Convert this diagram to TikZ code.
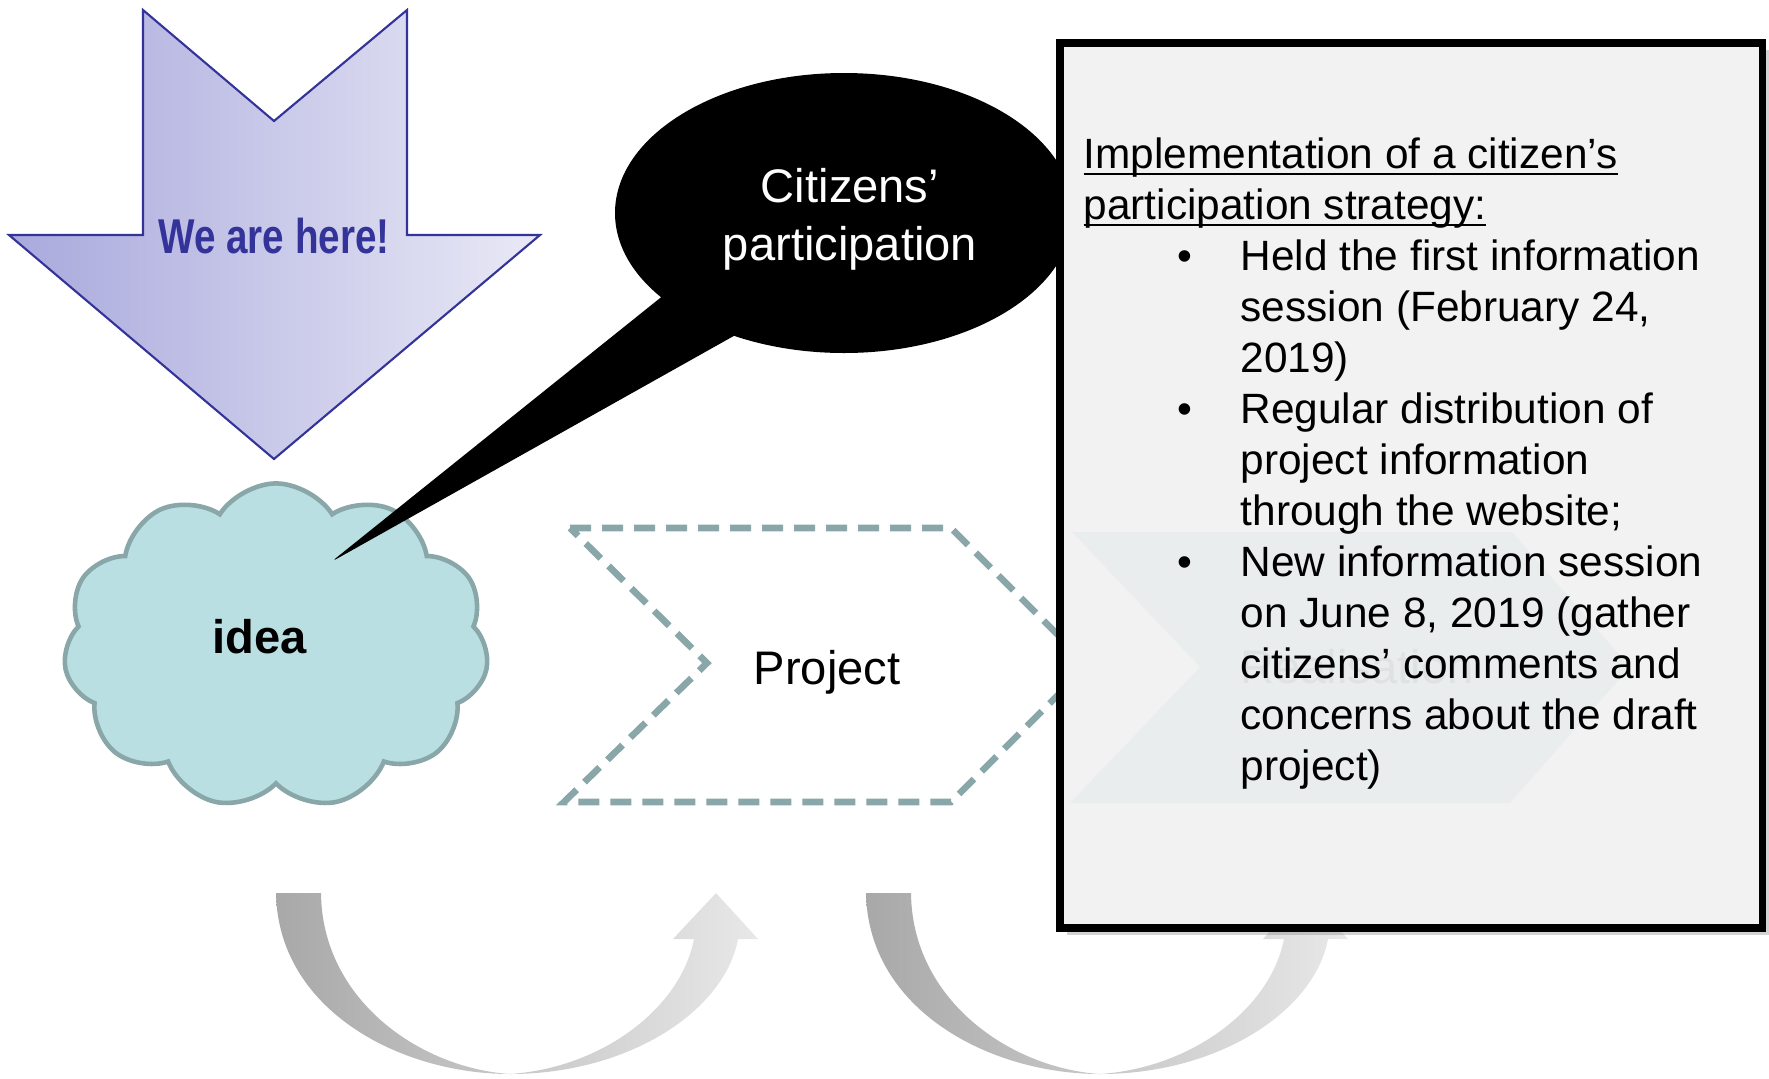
\documentclass[tikz,border=0pt]{standalone}
\usepackage{fontspec}
\setmainfont{Liberation Sans}
\usetikzlibrary{shapes.symbols,shadows}
\definecolor{hereline}{HTML}{333399}
\definecolor{hereleft}{HTML}{A9A9DD}
\definecolor{hereright}{HTML}{E9E9F6}
\definecolor{cloudfill}{HTML}{B9DFE2}
\definecolor{cloudline}{HTML}{89A6A8}
\definecolor{boxfill}{HTML}{F2F2F2}
\definecolor{ghostfill}{HTML}{E6ECED}
\definecolor{ghosttext}{HTML}{DEE2E3}
\newcommand{\boxfont}{\fontsize{12.05}{14.5}\selectfont}
\newcommand{\bigfont}{\fontsize{13.4}{16.5}\selectfont}
\newcommand{\undl}[1]{\setbox0\hbox{#1}\rlap{\vrule height -1.3pt depth 2pt width \wd0}\box0}
\tikzset{
	uturn/.style={left color=black!34, right color=black!9},
	stage/.style={draw=cloudline, line width=1.9pt, dash pattern=on 6pt off 3.1pt},
	line/.style={anchor=base west, inner sep=0pt, font=\boxfont},
	dot/.style={anchor=base, inner sep=0pt, font=\boxfont}
}
\begin{document}
\begin{tikzpicture}[x=.01cm,y=-.01cm]
		\useasboundingbox (0,0) rectangle (1769,1078);
		\foreach \dx in {0,590}
		\path[uturn, shift={(\dx,0)}] (276,893) .. controls (278,1010) and (400,1074) .. (510,1074) .. controls (630,1074) and (725,1010) .. (738,939) -- (758,939) -- (716,893) -- (673,939) -- (694,939) .. controls (680,1010) and (600,1068) .. (510,1074) .. controls (420,1068) and (322,1000) .. (321,893) -- cycle;
		
		\draw [draw=hereline, line width=.6pt, left color=hereleft, right color=hereright] (143,10) -- (274,121) -- (407,10) -- (407,235) -- (540,235) -- (274,459) -- (9,235) -- (143,235) -- cycle;
		\node (here) at (274,253) [anchor=base, xscale=.79, text=hereline, font=\fontsize{13.9}{16}\selectfont\bfseries] {We are here!};
		
		\node (cloud) at (276,646) [cloud, cloud puffs=11, cloud puff arc=115, cloud ignores aspect, minimum width=4.25cm, minimum height=3.25cm, fill=cloudfill, draw=cloudline, line width=1.3pt] {};
		\node (idea) at (260,653) [anchor=base, font=\bigfont\bfseries] {idea};
		
		\fill (844,213) ellipse [x radius=229, y radius=140];
		\fill [rounded corners=2pt] (700,266) -- (331,562) -- (780,310) -- cycle;
		\node (cit) at (850,202) [anchor=base, text=white, font=\bigfont] {Citizens’};
		\node (part) at (850,260) [anchor=base, text=white, font=\bigfont] {participation};
		
		\draw [stage] (570,528) -- (951,528) -- (1088,665) -- (951,802) -- (564,802) -- (707,663) -- cycle;
		\node (project) at (827,684) [anchor=base, font=\bigfont] {Project};
		
		\fill [boxfill, drop shadow={shadow xshift=2pt, shadow yshift=-2pt, opacity=.35}] (1060,43) rectangle (1762,928);
		\fill [ghostfill, opacity=.7] (1072,532) -- (1512,532) -- (1630,667) -- (1510,803) -- (1070,803) -- (1200,667) -- cycle;
		\node (realisation) at (1357,683) [anchor=base, text=ghosttext, font=\bigfont] {Realisation};
		
		\node (t1) at (1083,168) [line] {\undl{Implementation of a citizen’s}};
		\node (t2) at (1083,219) [line] {\undl{participation strategy:}};
		\node (b1) at (1185,270) [dot] {•};
		\node (l1) at (1240,270) [line] {Held the first information};
		\node (l2) at (1240,321) [line] {session (February 24,};
		\node (l3) at (1240,372) [line] {2019)};
		\node (b2) at (1185,423) [dot] {•};
		\node (l4) at (1240,423) [line] {Regular distribution of};
		\node (l5) at (1240,474) [line] {project information};
		\node (l6) at (1240,525) [line] {through the website;};
		\node (b3) at (1185,576) [dot] {•};
		\node (l7) at (1240,576) [line] {New information session};
		\node (l8) at (1240,627) [line] {on June 8, 2019 (gather};
		\node (l9) at (1240,678) [line] {citizens’ comments and};
		\node (l10) at (1240,729) [line] {concerns about the draft};
		\node (l11) at (1240,780) [line] {project)};
		
		\draw [line width=2pt] (1060,43) rectangle (1762,928);
\end{tikzpicture}
\end{document}
